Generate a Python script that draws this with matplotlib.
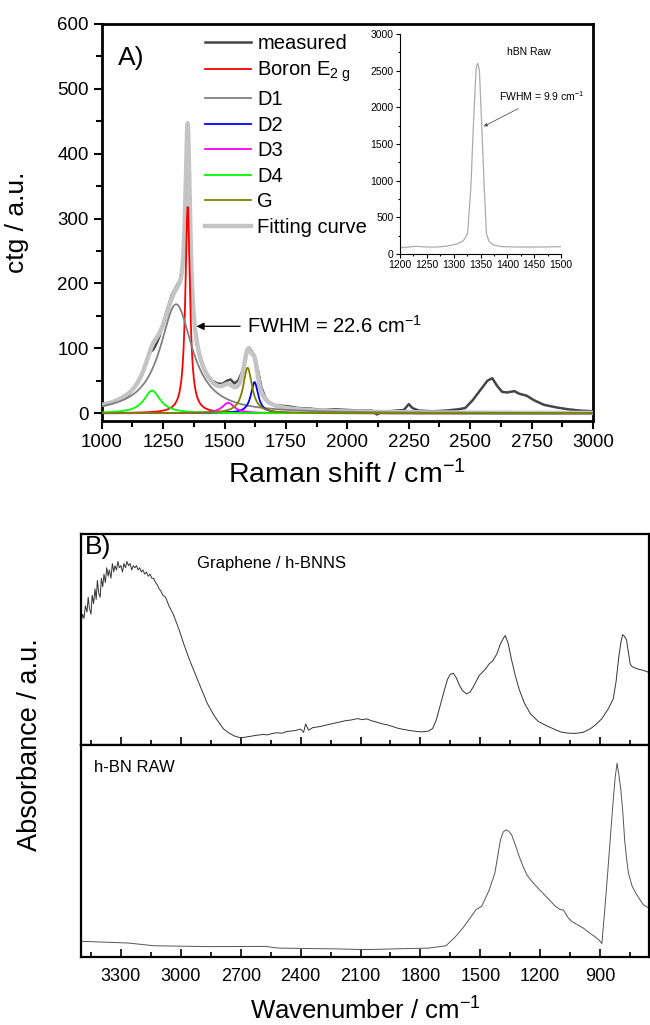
import numpy as np
import matplotlib
matplotlib.use('Agg')
import matplotlib.pyplot as plt
from matplotlib.ticker import MultipleLocator, NullLocator

plt.rcParams['font.family'] = ['Liberation Sans', 'DejaVu Sans']
plt.rcParams['mathtext.fontset'] = 'custom'
plt.rcParams['mathtext.rm'] = 'Liberation Sans'
plt.rcParams['mathtext.it'] = 'Liberation Sans:italic'

# ---- Raman (panel A): measured spectrum
raman_shift = [1000, 1040, 1080, 1100, 1120, 1140, 1160, 1175, 1190, 1200, 1210, 1220,
               1235, 1250, 1265, 1285, 1305, 1320, 1330, 1338, 1344, 1349, 1354, 1360,
               1366, 1372, 1380, 1395, 1410, 1430, 1450, 1470, 1490, 1510, 1525, 1540,
               1555, 1570, 1582, 1592, 1600, 1610, 1622, 1635, 1650, 1665, 1680, 1700,
               1720, 1745, 1770, 1800, 1850, 1900, 1950, 2000, 2050, 2100, 2120, 2140,
               2200, 2230, 2250, 2265, 2290, 2350, 2400, 2450, 2480, 2510, 2540, 2570,
               2590, 2610, 2630, 2650, 2680, 2700, 2730, 2760, 2800, 2850, 2900, 2950,
               3000]
raman_meas = [11, 15, 21, 24, 33, 44, 58, 72, 88, 95, 98, 105,
              118, 138, 158, 182, 196, 206, 232, 295, 385, 448, 400, 300,
              220, 168, 132, 96, 76, 60, 50, 46, 45, 50, 52, 46,
              50, 62, 80, 97, 101, 96, 86, 68, 40, 25, 17, 13,
              12, 11, 10, 8, 7, 5, 6, 5, 4, 4, -2, 2,
              4, 5, 14, 8, 4, 3, 4, 6, 8, 20, 35, 50,
              54, 42, 33, 32, 34, 30, 27, 20, 13, 9, 6, 4,
              3]

# fitted Lorentzian components: centre, height, FWHM, colour
comp_names = ['Boron E$_{\\mathregular{2\\ g}}$', 'D1', 'D2', 'D3', 'D4', 'G']
comp_center = [1350, 1303, 1622, 1515, 1205, 1594]
comp_height = [318, 168, 48, 16, 35, 70]
comp_fwhm = [22.6, 160, 36, 60, 80, 44]
comp_color = ['#ff0000', '#808080', '#0000ff', '#ff00ff', '#00ff00', '#808000']

# ---- inset: hBN raw Raman peak
hbn_shift = [1200, 1215, 1230, 1250, 1270, 1290, 1305, 1318, 1326, 1332, 1337, 1342,
             1345, 1348, 1352, 1357, 1361, 1366, 1375, 1390, 1420, 1460, 1500]
hbn_int = [85, 95, 105, 95, 95, 110, 135, 180, 280, 900, 1800, 2550,
           2600, 2500, 1800, 900, 280, 170, 120, 100, 95, 95, 100]

# ---- FTIR (panel B)
gr_wn = [3500, 3492, 3485, 3478, 3470, 3464, 3458, 3450, 3444, 3437, 3430, 3424,
         3418, 3411, 3404, 3398, 3391, 3385, 3378, 3371, 3364, 3358, 3350, 3343,
         3336, 3330, 3322, 3315, 3308, 3300, 3292, 3285, 3277, 3270, 3262, 3254,
         3246, 3238, 3230, 3222, 3214, 3206, 3198, 3190, 3181, 3172, 3163, 3154,
         3145, 3136, 3127, 3118, 3109, 3100, 3090, 3076, 3060, 3038, 3010, 2982,
         2955, 2925, 2895, 2869, 2840, 2812, 2785, 2756, 2730, 2699, 2660, 2620,
         2590, 2567, 2540, 2520, 2490, 2470, 2430, 2400, 2385, 2375, 2360, 2340,
         2300, 2270, 2247, 2220, 2200, 2170, 2150, 2115, 2090, 2070, 2045, 2021,
         1990, 1960, 1930, 1908, 1850, 1795, 1760, 1739, 1720, 1701, 1680, 1664,
         1650, 1635, 1620, 1607, 1590, 1569, 1550, 1532, 1505, 1475, 1455, 1438,
         1418, 1400, 1385, 1375, 1360, 1344, 1325, 1306, 1280, 1249, 1210, 1174,
         1130, 1098, 1060, 1023, 985, 947, 920, 891, 860, 834, 820, 806,
         795, 787, 778, 768, 758, 749, 740, 730, 710, 692, 672, 655]
gr_abs = [0.58, 0.62, 0.60, 0.66, 0.63, 0.70, 0.65, 0.62, 0.71, 0.67, 0.74, 0.69,
          0.78, 0.72, 0.70, 0.79, 0.75, 0.81, 0.77, 0.84, 0.80, 0.83, 0.79, 0.86,
          0.82, 0.85, 0.83, 0.87, 0.84, 0.85, 0.82, 0.86, 0.84, 0.87, 0.85, 0.86,
          0.83, 0.85, 0.84, 0.85, 0.83, 0.84, 0.82, 0.83, 0.81, 0.82, 0.80, 0.81,
          0.79, 0.79, 0.77, 0.76, 0.74, 0.73, 0.71, 0.70, 0.66, 0.62, 0.55, 0.47,
          0.40, 0.33, 0.26, 0.20, 0.15, 0.11, 0.075, 0.055, 0.042, 0.034, 0.040, 0.046,
          0.050, 0.048, 0.055, 0.058, 0.056, 0.064, 0.068, 0.075, 0.060, 0.100, 0.070, 0.082,
          0.088, 0.095, 0.100, 0.106, 0.110, 0.116, 0.118, 0.125, 0.120, 0.124, 0.115, 0.109,
          0.100, 0.094, 0.085, 0.078, 0.068, 0.062, 0.066, 0.078, 0.120, 0.187, 0.260, 0.312,
          0.335, 0.340, 0.318, 0.289, 0.258, 0.242, 0.252, 0.281, 0.330, 0.359, 0.385, 0.398,
          0.430, 0.477, 0.505, 0.519, 0.480, 0.406, 0.330, 0.266, 0.200, 0.148, 0.112, 0.094,
          0.075, 0.062, 0.056, 0.055, 0.060, 0.078, 0.098, 0.125, 0.170, 0.219, 0.300, 0.420,
          0.490, 0.523, 0.515, 0.500, 0.440, 0.383, 0.372, 0.367, 0.360, 0.356, 0.350, 0.344]

raw_wn = [3500, 3264, 3133, 2850, 2577, 2511, 2209, 2078, 1757, 1672, 1630, 1587,
          1550, 1522, 1493, 1455, 1427, 1399, 1385, 1371, 1357, 1343, 1325, 1305,
          1285, 1267, 1240, 1211, 1180, 1155, 1125, 1098, 1085, 1079, 1060, 1042,
          1010, 985, 955, 928, 905, 891, 876, 862, 848, 834, 824, 815,
          806, 796, 786, 777, 767, 758, 740, 721, 700, 683, 655]
raw_abs = [0.074, 0.066, 0.053, 0.049, 0.050, 0.042, 0.038, 0.035, 0.042, 0.053, 0.090, 0.137,
           0.185, 0.223, 0.239, 0.317, 0.396, 0.553, 0.590, 0.600, 0.592, 0.576, 0.530, 0.474,
           0.425, 0.388, 0.355, 0.325, 0.295, 0.270, 0.240, 0.223, 0.222, 0.215, 0.185, 0.168,
           0.150, 0.137, 0.115, 0.097, 0.080, 0.063, 0.230, 0.396, 0.570, 0.741, 0.850, 0.914,
           0.860, 0.788, 0.680, 0.553, 0.460, 0.396, 0.335, 0.301, 0.270, 0.246, 0.231]

W, H = 650, 1025
fig = plt.figure(figsize=(W / 100, H / 100), dpi=100)


def box(l, t, r, b):
    return [l / W, 1 - b / H, (r - l) / W, (b - t) / H]


def lorentz(x, x0, h, fwhm):
    g = fwhm / 2.0
    return h / (1 + ((x - x0) / g) ** 2)


# ---------------- panel A
ax = fig.add_axes(box(101.7, 24, 593, 421))
xs = np.linspace(1000, 3000, 2001)
comps = [lorentz(xs, c, h, w) for c, h, w in zip(comp_center, comp_height, comp_fwhm)]
fit = np.sum(comps, axis=0)

ax.plot(raman_shift, raman_meas, color='#454545', lw=1.8, label='measured', zorder=2)
ax.plot(xs, fit, color='#c4c4c4', lw=3.2, label='Fitting curve', zorder=3)
for name, col, yv in zip(comp_names, comp_color, comps):
    ax.plot(xs, yv, color=col, lw=1.3, label=name, zorder=4)

ax.set_xlim(1000, 3000)
ax.set_ylim(-12, 600)
ax.xaxis.set_major_locator(MultipleLocator(250))
ax.xaxis.set_minor_locator(MultipleLocator(125))
ax.yaxis.set_major_locator(MultipleLocator(100))
ax.yaxis.set_minor_locator(MultipleLocator(50))
ax.tick_params(which='both', direction='out', top=False, right=False, width=1.5)
ax.tick_params(which='major', length=6, labelsize=13.5)
ax.tick_params(which='minor', length=4)
for s in ax.spines.values():
    s.set_linewidth(2)
ax.set_xlabel('Raman shift / cm$^{\\mathregular{-1}}$', fontsize=20.5)
ax.set_ylabel('ctg / a.u.', fontsize=19)
ax.xaxis.set_label_coords(0.5, -0.098)
ax.yaxis.set_label_coords(-0.148, 0.5)

handles, labels = ax.get_legend_handles_labels()
order = [0, 2, 3, 4, 5, 6, 7, 1]
ax.legend([handles[i] for i in order], [labels[i] for i in order],
          loc='upper left', bbox_to_anchor=(205 / W, 1 - 34 / H),
          bbox_transform=fig.transFigure, frameon=False, fontsize=14.5,
          handlelength=2.3, handletextpad=0.3, labelspacing=0.32, borderpad=0,
          borderaxespad=0)

ax.text(0.033, 0.915, 'A)', transform=ax.transAxes, fontsize=19, va='center')
ax.annotate('FWHM = 22.6 cm$^{\\mathregular{-1}}$', xy=(1386, 134), xytext=(1592, 134),
            va='center', ha='left', fontsize=14.5,
            arrowprops=dict(arrowstyle='-|>', color='k', lw=0.9, mutation_scale=11,
                            shrinkA=3, shrinkB=0))

# inset
axi = fig.add_axes(box(400, 34, 561, 254))
axi.plot(hbn_shift, hbn_int, color='#ababab', lw=0.9)
axi.set_xlim(1200, 1500)
axi.set_ylim(0, 3000)
axi.xaxis.set_major_locator(MultipleLocator(50))
axi.xaxis.set_minor_locator(MultipleLocator(25))
axi.yaxis.set_major_locator(MultipleLocator(500))
axi.yaxis.set_minor_locator(MultipleLocator(250))
axi.spines['top'].set_visible(False)
axi.spines['right'].set_visible(False)
for s in ('left', 'bottom'):
    axi.spines[s].set_linewidth(0.8)
axi.tick_params(which='both', direction='out', width=0.8, labelsize=7.5, pad=1.5)
axi.tick_params(which='major', length=3)
axi.tick_params(which='minor', length=1.5)
axi.text(1440, 2760, 'hBN Raw', fontsize=7.5, ha='center', va='center')
axi.annotate('FWHM = 9.9 cm$^{\\mathregular{-1}}$', xy=(1356, 1740), xytext=(1385, 2150),
             fontsize=7.5, ha='left', va='center',
             arrowprops=dict(arrowstyle='-|>', color='#555555', lw=0.6,
                             mutation_scale=5, shrinkA=4, shrinkB=0))

# ---------------- panel B
axt = fig.add_axes(box(81, 534, 649, 745))
axb = fig.add_axes(box(81, 745, 649, 957), sharex=axt)
axt.plot(gr_wn, gr_abs, color='#333333', lw=0.7)
axb.plot(raw_wn, raw_abs, color='#555555', lw=0.7)
axt.set_xlim(3500, 655)
axt.set_ylim(0, 1)
axb.set_ylim(0, 1)
for a in (axt, axb):
    a.xaxis.set_major_locator(MultipleLocator(300))
    a.xaxis.set_minor_locator(MultipleLocator(150))
    a.yaxis.set_major_locator(NullLocator())
    a.yaxis.set_minor_locator(NullLocator())
    a.tick_params(which='both', direction='in', top=False, width=1.2)
    a.tick_params(which='major', length=6)
    a.tick_params(which='minor', length=3.5)
    for s in a.spines.values():
        s.set_linewidth(1.6)
axt.tick_params(labelbottom=False)
axb.tick_params(labelsize=13, pad=8)
axb.set_xlabel('Wavenumber / cm$^{\\mathregular{-1}}$', fontsize=18.5)
axb.xaxis.set_label_coords(0.5, -0.19)
fig.text(30 / W, 1 - 745 / H, 'Absorbance / a.u.', rotation=90, fontsize=19.5,
         ha='center', va='center')
axt.text(0.006, 0.94, 'B)', transform=axt.transAxes, fontsize=19, va='center')
axt.text(0.205, 0.86, 'Graphene / h-BNNS', transform=axt.transAxes, fontsize=12, va='center')
axb.text(0.023, 0.895, 'h-BN RAW', transform=axb.transAxes, fontsize=12, va='center')

fig.savefig('out.png', dpi=100)
